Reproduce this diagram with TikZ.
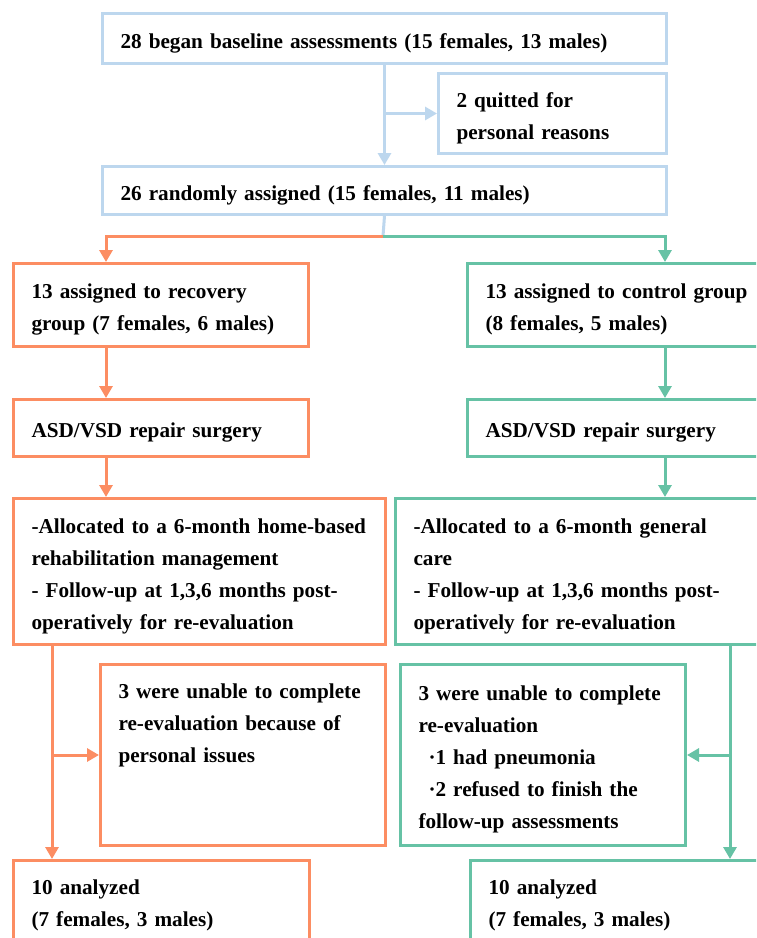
\documentclass[tikz,border=0pt]{standalone}
\usepackage{fontspec}
\setmainfont{Liberation Serif}
\usetikzlibrary{arrows.meta,calc}
\definecolor{cblue}{HTML}{BDD7EE}
\definecolor{corange}{HTML}{FC8D62}
\definecolor{cteal}{HTML}{66C2A5}
\newcommand\tp{\rule{0pt}{24pt}}
\tikzset{
  box/.style={draw, line width=3pt, anchor=north west, inner xsep=18pt, inner ysep=0pt,
    align=left, text=black, font=\fontsize{21.2}{32}\selectfont\bfseries},
  link/.style={line width=3pt},
  conn/.style={line width=3pt, -{Triangle[length=12pt,width=13pt]}},
}
\begin{document}
\begin{tikzpicture}[x=1pt,y=-1pt]
\useasboundingbox (0,0) rectangle (756,938);
\clip (0,0) rectangle (756,938);
\fill[white] (0,0) rectangle (756,938);
% guides
\coordinate (split) at (383,236);
\coordinate (ox) at (106,0);
\coordinate (tx) at (665,0);
\coordinate (ox2) at (52,0);
\coordinate (tx2) at (730,0);
% top
\node[box, draw=cblue, minimum width=564pt, minimum height=50pt, text width=528pt] (A) at (101,12)
  {\tp 28 began baseline assessments (15 females, 13 males)};
\node[box, draw=cblue, minimum width=228pt, minimum height=80pt, text width=192pt] (Q) at (437,72)
  {\tp 2 quitted for\\personal reasons};
\node[box, draw=cblue, minimum width=564pt, minimum height=48pt, text width=528pt] (B) at (101,165)
  {\tp 26 randomly assigned (15 females, 11 males)};
% left column
\node[box, draw=corange, minimum width=295pt, minimum height=83pt, text width=259pt] (C1) at (12,262)
  {\tp 13 assigned to recovery\\group (7 females, 6 males)};
\node[box, draw=corange, minimum width=295pt, minimum height=57pt, text width=259pt] (D1) at (12,398)
  {\tp ASD/VSD repair surgery};
\node[box, draw=corange, minimum width=372pt, minimum height=146pt, text width=336pt] (E1) at (12,497)
  {\tp -Allocated to a 6-month home-based\\rehabilitation management\\- Follow-up at 1,3,6 months post-\\operatively for re-evaluation};
\node[box, draw=corange, minimum width=285pt, minimum height=181pt, text width=249pt] (F1) at (99,663)
  {\tp 3 were unable to complete\\re-evaluation because of\\personal issues\\ \strut\\ \strut};
\node[box, draw=corange, minimum width=296pt, minimum height=81pt, text width=260pt] (G1) at (12,859)
  {\tp 10 analyzed\\(7 females, 3 males)};
% right column
\node[box, draw=cteal, minimum width=310pt, minimum height=83pt, text width=274pt] (C2) at (466,262)
  {\tp 13 assigned to control group\\(8 females, 5 males)};
\node[box, draw=cteal, minimum width=310pt, minimum height=57pt, text width=274pt] (D2) at (466,398)
  {\tp ASD/VSD repair surgery};
\node[box, draw=cteal, minimum width=382pt, minimum height=146pt, text width=346pt] (E2) at (394,497)
  {\tp -Allocated to a 6-month general\\care\\- Follow-up at 1,3,6 months post-\\operatively for re-evaluation};
\node[box, draw=cteal, minimum width=285pt, minimum height=181pt, text width=249pt] (F2) at (399,663)
  {\tp 3 were unable to complete\\re-evaluation\\\hspace*{10pt}·1 had pneumonia\\\hspace*{10pt}·2 refused to finish the\\follow-up assessments};
\node[box, draw=cteal, minimum width=307pt, minimum height=81pt, text width=271pt] (G2) at (469,859)
  {\tp 10 analyzed\\(7 females, 3 males)};
% connectors blue
\draw[conn, cblue] (A.south) -- (B.north);
\draw[conn, cblue] (Q.west -| A.south) -- (Q.west);
\draw[link, cblue] (B.south) -- (split);
% orange
\draw[conn, corange] (split) -| (C1.north -| ox);
\draw[conn, corange] (C1.south -| ox) -- (D1.north -| ox);
\draw[conn, corange] (D1.south -| ox) -- (E1.north -| ox);
\draw[conn, corange] (E1.south -| ox2) -- (G1.north -| ox2);
\draw[conn, corange] (F1.west -| ox2) -- (F1.west);
% teal
\draw[conn, cteal] (split) -| (C2.north -| tx);
\draw[conn, cteal] (C2.south -| tx) -- (D2.north -| tx);
\draw[conn, cteal] (D2.south -| tx) -- (E2.north -| tx);
\draw[conn, cteal] (E2.south -| tx2) -- (G2.north -| tx2);
\draw[conn, cteal] (F2.east -| tx2) -- (F2.east);
\end{tikzpicture}
\end{document}
